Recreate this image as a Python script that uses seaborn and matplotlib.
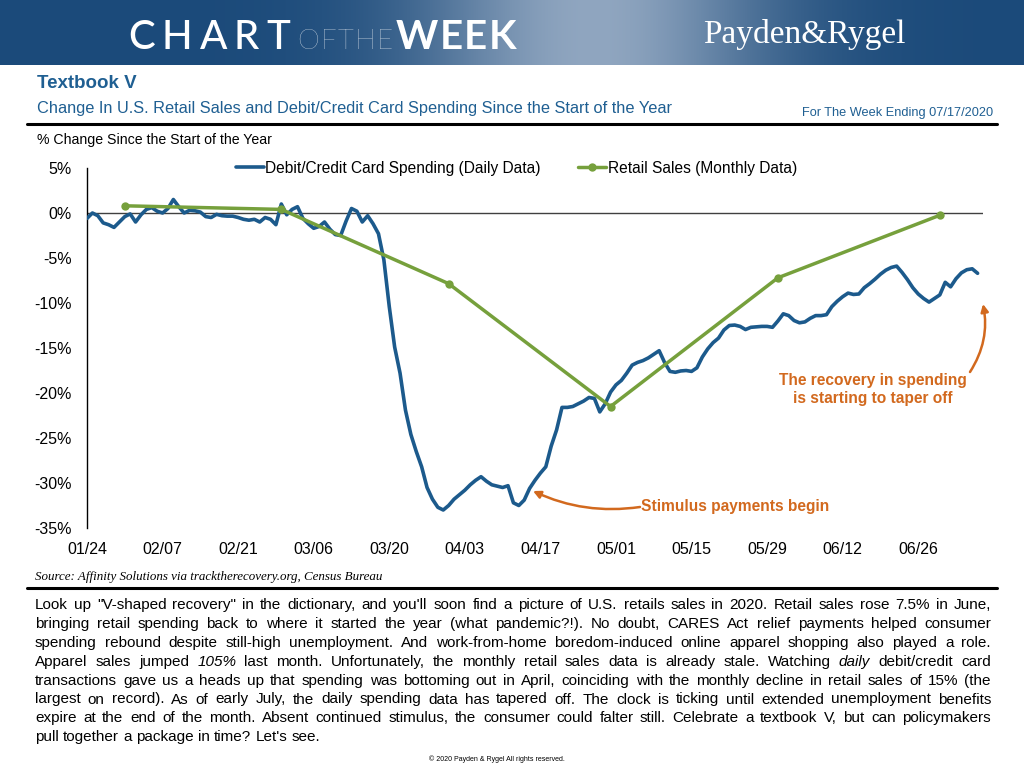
import matplotlib
matplotlib.use('Agg')

import numpy as np
import pandas as pd
import matplotlib.pyplot as plt
import seaborn as sns
from matplotlib.lines import Line2D
import warnings
warnings.filterwarnings('ignore')

# --------------------------------------------
# Data (% change since the start of the year)
card_start = '2020-01-24'
card_spending = [
    -0.6, 0.0, -0.3, -1.1, -1.3, -1.6, -1.0, -0.4, -0.1, -1.0,
    -0.2, 0.4, 0.6, 0.2, 0.0, 0.5, 1.5, 0.7, 0.0, 0.3,
    0.25, 0.1, -0.4, -0.5, -0.15, -0.3, -0.35, -0.35, -0.5, -0.7,
    -0.8, -0.7, -1.0, -0.5, -0.7, -1.3, 1.0, -0.2, 0.4, 0.7,
    -0.6, -1.2, -1.7, -1.5, -1.0, -1.8, -2.4, -2.5, -0.9, 0.5,
    0.2, -1.0, -0.3, -1.2, -2.3, -5.2, -10.4, -14.9, -17.8, -21.9,
    -24.6, -26.5, -28.2, -30.5, -31.8, -32.7, -33.0, -32.5, -31.8, -31.3,
    -30.8, -30.2, -29.7, -29.3, -29.8, -30.2, -30.35, -30.5, -30.3, -32.2,
    -32.5, -31.9, -30.6, -29.7, -28.9, -28.2, -25.9, -24.1, -21.6, -21.6,
    -21.5, -21.2, -20.9, -20.5, -20.6, -22.1, -21.2, -19.9, -19.1, -18.6,
    -17.8, -16.9, -16.6, -16.4, -16.1, -15.7, -15.3, -16.6, -17.6, -17.7,
    -17.55, -17.5, -17.6, -17.2, -16.0, -15.1, -14.4, -13.9, -13.0, -12.5,
    -12.45, -12.6, -12.95, -12.7, -12.65, -12.6, -12.6, -12.7, -12.0, -11.2,
    -11.4, -11.95, -12.2, -12.1, -11.7, -11.4, -11.4, -11.3, -10.4, -9.8,
    -9.3, -8.9, -9.05, -9.0, -8.3, -7.85, -7.35, -6.8, -6.35, -6.05,
    -5.9, -6.6, -7.4, -8.3, -9.0, -9.5, -9.9, -9.5, -9.1, -7.7,
    -8.2, -7.3, -6.65, -6.3, -6.2, -6.7,
]
retail_dates = ['2020-01-31', '2020-02-29', '2020-03-31', '2020-04-30', '2020-05-31', '2020-06-30']
retail_sales = [0.8, 0.4, -7.85, -21.5, -7.2, -0.25]

x_tick_labels = ['01/24', '02/07', '02/21', '03/06', '03/20', '04/03',
                 '04/17', '05/01', '05/15', '05/29', '06/12', '06/26']
y_ticks = [5, 0, -5, -10, -15, -20, -25, -30, -35]

body_lines = [
    'Look up "V-shaped recovery" in the dictionary, and you\'ll soon find a picture of U.S. retails sales in 2020. Retail sales rose 7.5% in June,',
    'bringing retail spending back to where it started the year (what pandemic?!). No doubt, CARES Act relief payments helped consumer',
    'spending rebound despite still-high unemployment. And work-from-home boredom-induced online apparel shopping also played a role.',
    'Apparel sales jumped _105%_ last month. Unfortunately, the monthly retail sales data is already stale. Watching _daily_ debit/credit card',
    'transactions gave us a heads up that spending was bottoming out in April, coinciding with the monthly decline in retail sales of 15% (the',
    'largest on record). As of early July, the daily spending data has tapered off. The clock is ticking until extended unemployment benefits',
    'expire at the end of the month. Absent continued stimulus, the consumer could falter still. Celebrate a textbook V, but can policymakers',
    'pull together a package in time? Let\'s see.',
]

card = pd.DataFrame({'date': pd.date_range(card_start, periods=len(card_spending), freq='D'),
                     'pct': card_spending})
retail = pd.DataFrame({'date': pd.to_datetime(retail_dates), 'pct': retail_sales})

BLUE = '#1c5a8c'
GREEN = '#76a03c'
ORANGE = '#d2691e'
TITLE_BLUE = '#1f5f92'
NARROW = ['Liberation Sans Narrow', 'Liberation Sans', 'DejaVu Sans']

sns.set_theme(style='white', rc={'text.color': 'black', 'xtick.color': 'black',
                                 'ytick.color': 'black', 'axes.labelcolor': 'black'})
plt.rcParams['font.family'] = ['Liberation Sans', 'DejaVu Sans']

W, H = 1024, 768
def fx(x):
    return x / W
def fy(y):
    return 1 - y / H

fig = plt.figure(figsize=(10.24, 7.68), dpi=100)
fig.patch.set_facecolor('white')
renderer = fig.canvas.get_renderer()

# --------------------------------------------
# Header banner
hax = fig.add_axes([0, fy(65), 1, fy(0) - fy(65)])
gx = np.linspace(0, 1, 400)
glow = np.exp(-((gx - 0.58) / 0.17) ** 2)
dark = np.array([0x1b, 0x4a, 0x7a]) / 255
light = np.array([0x90, 0xa6, 0xc0]) / 255
grad = dark[None, :] + glow[:, None] * (light - dark)[None, :]
hax.imshow(np.tile(grad[None, :, :], (20, 1, 1)), aspect='auto', extent=[0, 1, 0, 1])
hax.set_axis_off()

def spaced(x, y, s, track, **kw):
    for ch in s:
        t = fig.text(fx(x), fy(y), ch, va='baseline', ha='left', **kw)
        x += t.get_window_extent(renderer).width + track
    return x

xe = spaced(128, 49, 'CHART', 7, color='white', fontsize=29, family='Lato', fontweight='medium')
xe = spaced(xe, 49, 'OFTHE', 1.5, color='white', fontsize=20, family='Lato', fontweight='light')
spaced(xe + 1, 49, 'WEEK', 1.5, color='white', fontsize=29, family='Lato', fontweight='bold')
fig.text(fx(703), fy(34), 'Payden&Rygel', color='white', fontsize=24, family='Liberation Serif',
         va='center', ha='left')

# --------------------------------------------
# Titles
fig.text(fx(37), fy(84), 'Textbook V', color=TITLE_BLUE, fontsize=13.5, fontweight='bold',
         family=NARROW, va='center')
fig.text(fx(37), fy(109), 'Change In U.S. Retail Sales and Debit/Credit Card Spending Since the Start of the Year',
         color=TITLE_BLUE, fontsize=11.8, family=NARROW, va='center')
fig.text(fx(993), fy(113), 'For The Week Ending 07/17/2020', color=TITLE_BLUE, fontsize=9.2,
         family=NARROW, va='center', ha='right')
fig.add_artist(Line2D([fx(27), fx(997)], [fy(124), fy(124)], color='black', lw=2.2))
fig.text(fx(37), fy(140), '% Change Since the Start of the Year', fontsize=10.2, family=NARROW, va='center')

# --------------------------------------------
# Chart
ax = fig.add_axes([fx(87), fy(528), fx(983) - fx(87), fy(168) - fy(528)])
ax.axhline(0, color='#404040', lw=1, zorder=1)
sns.lineplot(data=card, x='date', y='pct', ax=ax, color=BLUE, lw=2.6,
             label='Debit/Credit Card Spending (Daily Data)', zorder=3)
sns.lineplot(data=retail, x='date', y='pct', ax=ax, color=GREEN, lw=2.5, marker='o',
             markersize=6, markeredgewidth=0, label='Retail Sales (Monthly Data)', zorder=4)

tick_dates = pd.date_range(card_start, periods=len(x_tick_labels), freq='14D')
ax.set_xlim(pd.Timestamp(card_start), pd.Timestamp('2020-07-08'))
ax.set_ylim(-35, 5)
ax.set_xticks(tick_dates)
ax.set_xticklabels(x_tick_labels)
ax.set_yticks(y_ticks)
ax.set_yticklabels([f'{v}%' for v in y_ticks])
ax.tick_params(axis='both', length=0, labelsize=11.5)
ax.tick_params(axis='y', pad=11)
ax.tick_params(axis='x', pad=10)
ax.set_xlabel('')
ax.set_ylabel('')
for side in ['top', 'right', 'bottom']:
    ax.spines[side].set_visible(False)
ax.spines['left'].set_color('black')
ax.spines['left'].set_linewidth(1)
ax.set_facecolor('none')

ax.legend(ncol=2, loc='center', bbox_to_anchor=(0.479, 1.0), frameon=False, fontsize=11.2,
          handlelength=1.8, handletextpad=0.1, columnspacing=2.4)

# Annotations
fig.text(fx(641), fy(506), 'Stimulus payments begin', color=ORANGE, fontsize=11.2,
         fontweight='bold', va='center', ha='left')
ax.annotate('', xy=(fx(533), fy(491)), xycoords='figure fraction',
            xytext=(fx(640), fy(507)), textcoords='figure fraction',
            arrowprops=dict(arrowstyle='-|>', color=ORANGE, lw=1.8, mutation_scale=11,
                            shrinkA=0, shrinkB=0, connectionstyle='arc3,rad=-0.15'))
fig.text(fx(873), fy(390), 'The recovery in spending\nis starting to taper off', color=ORANGE,
         fontsize=11.2, fontweight='bold', va='center', ha='center', linespacing=1.25)
ax.annotate('', xy=(fx(983), fy(304)), xycoords='figure fraction',
            xytext=(fx(970), fy(372)), textcoords='figure fraction',
            arrowprops=dict(arrowstyle='-|>', color=ORANGE, lw=1.8, mutation_scale=11,
                            shrinkA=0, shrinkB=0, connectionstyle='arc3,rad=0.2'))

# --------------------------------------------
# Source, body text, footer
fig.text(fx(35), fy(577), 'Source: Affinity Solutions via tracktherecovery.org, Census Bureau',
         family='Liberation Serif', style='italic', fontsize=9.4, va='center')
fig.add_artist(Line2D([fx(27), fx(997)], [fy(588), fy(588)], color='black', lw=2.2))

BODY_SIZE = 11

def body_line(y, line, x0=35, x1=991, last=False):
    words = line.split(' ')
    texts = []
    for w in words:
        italic = '_' in w
        t = fig.text(0, fy(y), w.replace('_', ''), fontsize=BODY_SIZE, family=NARROW,
                     va='center', ha='left', style='italic' if italic else 'normal')
        texts.append(t)
    widths = [t.get_window_extent(renderer).width for t in texts]
    if last:
        probe = fig.text(0, 0, 'a a', fontsize=BODY_SIZE, family=NARROW)
        probe2 = fig.text(0, 0, 'aa', fontsize=BODY_SIZE, family=NARROW)
        gap = probe.get_window_extent(renderer).width - probe2.get_window_extent(renderer).width
        probe.remove()
        probe2.remove()
    else:
        gap = (x1 - x0 - sum(widths)) / (len(words) - 1)
    x = x0
    for t, w in zip(texts, widths):
        t.set_x(fx(x))
        x += w + gap

for i, line in enumerate(body_lines):
    body_line(605 + i * 18.9, line, last=(i == len(body_lines) - 1))

fig.text(fx(497), fy(759), '\u00a9 2020 Payden & Rygel All rights reserved.', fontsize=5,
         ha='center', va='center')

plt.savefig('out.png', dpi=100)
